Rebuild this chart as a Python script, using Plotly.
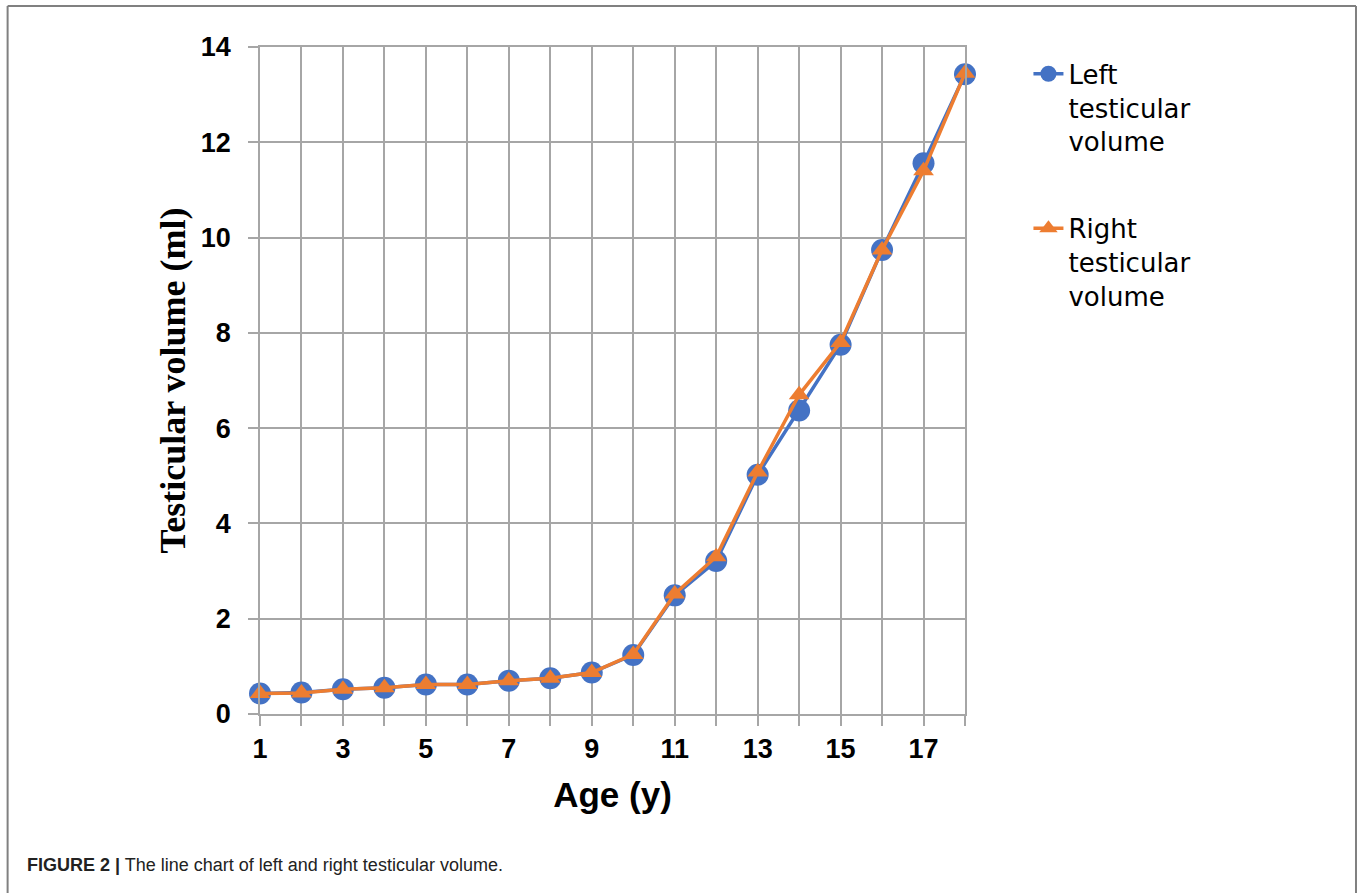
import plotly.graph_objects as go

ages = list(range(1, 19))
left_volume = [0.43, 0.45, 0.52, 0.55, 0.62, 0.62, 0.70, 0.75, 0.87, 1.24,
               2.49, 3.21, 5.02, 6.37, 7.75, 9.74, 11.56, 13.43]
right_volume = [0.43, 0.44, 0.52, 0.55, 0.62, 0.62, 0.70, 0.75, 0.87, 1.25,
                2.52, 3.30, 5.08, 6.70, 7.80, 9.74, 11.40, 13.45]
x_tick_vals = [1, 3, 5, 7, 9, 11, 13, 15, 17]
y_tick_vals = [0, 2, 4, 6, 8, 10, 12, 14]

BLUE = "#4472C4"
ORANGE = "#ED7D31"
GRID = "#A6A6A6"

fig = go.Figure()
fig.add_trace(go.Scatter(
    x=ages, y=left_volume, mode="lines+markers",
    name="Left<br>testicular<br>volume", legendgroup="L",
    line=dict(color=BLUE, width=3.5),
    marker=dict(symbol="circle", size=22, color=BLUE),
    cliponaxis=False,
))
fig.add_trace(go.Scatter(
    x=ages, y=right_volume, mode="lines+markers",
    name="Right<br>testicular<br>volume", legendgroup="R",
    line=dict(color=ORANGE, width=3.5),
    marker=dict(symbol="triangle-up", size=18, color=ORANGE),
    cliponaxis=False,
))

fig.update_layout(
    width=1360, height=893,
    margin=dict(l=260, r=395, t=47, b=179),
    paper_bgcolor="white", plot_bgcolor="white",
    showlegend=True,
    legend=dict(
        x=1.09, y=0.995, xanchor="left", yanchor="top",
        font=dict(family="DejaVu Sans", size=26, color="black"),
        traceorder="grouped", tracegroupgap=50, valign="top",
        bgcolor="rgba(0,0,0,0)",
    ),
    xaxis=dict(
        range=[1, 18], tickvals=x_tick_vals, ticktext=[str(v) for v in x_tick_vals],
        ticks="outside", ticklen=10, tickcolor=GRID, tickwidth=1.5,
        showgrid=True, gridcolor=GRID, gridwidth=1.5,
        minor=dict(tickvals=ages, ticks="outside", ticklen=10, tickcolor=GRID,
                   tickwidth=1.5, showgrid=True, gridcolor=GRID, gridwidth=1.5),
        showline=True, linecolor=GRID, linewidth=1.5, mirror=True,
        tickfont=dict(family="Liberation Sans", size=27, color="black", weight="bold"),
        title=dict(text="Age (y)", font=dict(family="Liberation Sans", size=35,
                                             color="black", weight="bold"),
                   standoff=19),
        zeroline=False,
    ),
    yaxis=dict(
        range=[0, 14], tickvals=y_tick_vals,
        ticks="outside", ticklen=10, tickcolor=GRID, tickwidth=1.5,
        ticklabelstandoff=12,
        showgrid=True, gridcolor=GRID, gridwidth=1.5,
        showline=True, linecolor=GRID, linewidth=1.5, mirror=True,
        tickfont=dict(family="Liberation Sans", size=27, color="black", weight="bold"),
        title=dict(text="Testicular volume (ml)",
                   font=dict(family="Liberation Serif", size=36, color="black",
                             weight="bold"),
                   standoff=4),
        zeroline=False,
    ),
)

fig.add_annotation(
    xref="paper", yref="paper", x=-0.333, y=-0.226, xanchor="left", yanchor="middle",
    text="<b>FIGURE 2 |</b> The line chart of left and right testicular volume.",
    showarrow=False,
    font=dict(family="Liberation Sans Narrow, Arial Narrow, Liberation Sans", size=18,
              color="#222222"),
)

# outer frame (left, top, right)
frame = dict(color="#808080", width=2)
fig.add_shape(type="line", xref="paper", yref="paper",
              x0=-0.358, x1=-0.358, y0=1.0615, y1=-0.27, line=frame)
fig.add_shape(type="line", xref="paper", yref="paper",
              x0=-0.358, x1=1.5546, y0=1.0615, y1=1.0615, line=frame)
fig.add_shape(type="line", xref="paper", yref="paper",
              x0=1.5546, x1=1.5546, y0=1.0615, y1=-0.27, line=frame)

fig.write_html("out.html", config={"displayModeBar": False},
               post_script="document.body.style.margin='0';")
